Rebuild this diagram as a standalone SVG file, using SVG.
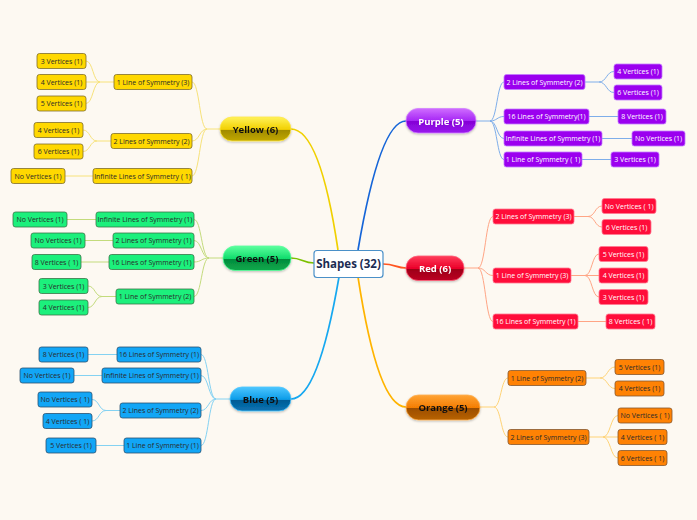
<svg xmlns="http://www.w3.org/2000/svg" width="697" height="520" viewBox="0 0 697 520">
<style>
text{font-family:"Open Sans","Noto Sans","DejaVu Sans",sans-serif;}
.lt{font-size:7px;text-anchor:middle;}
.pt{font-size:9.5px;font-weight:bold;text-anchor:middle;}
.ly rect{fill:#ffd800;stroke:#7d6c2c;stroke-width:0.8;}
.lg rect{fill:#1cf07c;stroke:#3b7448;stroke-width:0.8;}
.lb rect{fill:#12a6f6;stroke:#2c506e;stroke-width:0.8;}
.lo rect{fill:#ff8204;stroke:#84572e;stroke-width:0.8;}
.lp rect{fill:#9b00ef;stroke:#c27cff;stroke-width:0.8;}
.lr rect{fill:#ff0d3a;stroke:#ff7a90;stroke-width:0.8;}
.ly text,.lg text,.lb text,.lo text{fill:#2a2a2a;}
.lp text,.lr text{fill:#ffffff;}
.c{fill:none;stroke-width:1;}
.cy{stroke:#f7e27a;} .cg{stroke:#c3db7c;} .cb{stroke:#84d2f2;} .cp{stroke:#7eaeea;} .cr{stroke:#ffa585;} .co{stroke:#ffd376;}
.m{fill:none;stroke-width:1.7;}
</style>
<defs>
<linearGradient id="gy" x1="0" y1="0" x2="0" y2="1"><stop offset="0" stop-color="#fff25a"/><stop offset="0.52" stop-color="#f2d000"/><stop offset="0.53" stop-color="#9e8900"/><stop offset="1" stop-color="#c2a800"/></linearGradient>
<linearGradient id="gg" x1="0" y1="0" x2="0" y2="1"><stop offset="0" stop-color="#5cff9e"/><stop offset="0.52" stop-color="#10dc6c"/><stop offset="0.53" stop-color="#008a3c"/><stop offset="1" stop-color="#10aa4c"/></linearGradient>
<linearGradient id="gb" x1="0" y1="0" x2="0" y2="1"><stop offset="0" stop-color="#4cc6ff"/><stop offset="0.52" stop-color="#0c9ce8"/><stop offset="0.53" stop-color="#005a94"/><stop offset="1" stop-color="#0a74b4"/></linearGradient>
<linearGradient id="gp" x1="0" y1="0" x2="0" y2="1"><stop offset="0" stop-color="#cf6cff"/><stop offset="0.52" stop-color="#a424f4"/><stop offset="0.53" stop-color="#8400d6"/><stop offset="1" stop-color="#9a18ee"/></linearGradient>
<linearGradient id="gr" x1="0" y1="0" x2="0" y2="1"><stop offset="0" stop-color="#ff3c5a"/><stop offset="0.52" stop-color="#ea0028"/><stop offset="0.53" stop-color="#9c0018"/><stop offset="1" stop-color="#bc0022"/></linearGradient>
<linearGradient id="go" x1="0" y1="0" x2="0" y2="1"><stop offset="0" stop-color="#ffa436"/><stop offset="0.52" stop-color="#f47c00"/><stop offset="0.53" stop-color="#9c4e00"/><stop offset="1" stop-color="#b86200"/></linearGradient>
<filter id="glow" x="-20%" y="-40%" width="140%" height="180%"><feDropShadow dx="0" dy="1" stdDeviation="1.2" flood-color="#000" flood-opacity="0.25"/></filter>
</defs>
<rect x="0" y="0" width="697" height="520" fill="#fdf9f2"/>

<g id="connectors">
<path class="m" stroke="#f0d000" d="M338 250 Q320 129 291 129"/>
<path class="m" stroke="#1565d8" d="M358 250 Q380 121 406 121"/>
<path class="m" stroke="#16a8f0" d="M339 277 Q318 399 291 399"/>
<path class="m" stroke="#ffb400" d="M358 277 Q378 407 406 407"/>
<path class="m" stroke="#7cc000" d="M314 263 C303 263 302 258 291 258"/>
<path class="m" stroke="#ff5520" d="M383 264 C395 264 396 268 406 268"/>

<path class="c cy" d="M220 129 H207 C199.5 129 199.5 82 192 82 M207 129 C199.5 129 199.5 141 192 141 M207 129 C199.5 129 199.5 176 192 176"/>
<path class="c cy" d="M114 82 H100 C93 82 93 61 86 61 M100 82 H86 M100 82 C93 82 93 103.5 86 103.5"/>
<path class="c cy" d="M111 141 H97 C90 141 90 130 83 130 M97 141 C90 141 90 151.5 83 151.5"/>
<path class="c cy" d="M93 176 H65"/>

<path class="c cg" d="M223 258 H209 C201.5 258 201.5 219.5 194 219.5 M209 258 C201.5 258 201.5 240.5 194 240.5 M209 258 C201.5 258 201.5 262 194 262 M209 258 C201.5 258 201.5 296.5 194 296.5"/>
<path class="c cg" d="M96 219.5 H67 M113 240.5 H85 M109 262 H81"/>
<path class="c cg" d="M116 296.5 H102 C95 296.5 95 286 88 286 M102 296.5 C95 296.5 95 307.5 88 307.5"/>

<path class="c cb" d="M230 399 H216 C208.5 399 208.5 354.5 201 354.5 M216 399 C208.5 399 208.5 375.5 201 375.5 M216 399 C208.5 399 208.5 410.5 201 410.5 M216 399 C208.5 399 208.5 445.5 201 445.5"/>
<path class="c cb" d="M117 354.5 H88 M102 375.5 H74 M124 445.5 H96"/>
<path class="c cb" d="M120 410.5 H106 C99 410.5 99 399.5 92 399.5 M106 410.5 C99 410.5 99 421 92 421"/>

<path class="c cp" d="M476 121 H490 C497 121 497 82 504 82 M490 121 C497 121 497 116.5 504 116.5 M490 121 C497 121 497 138.5 504 138.5 M490 121 C497 121 497 159.5 504 159.5"/>
<path class="c cp" d="M585 82 H599 C606.5 82 606.5 71.5 614 71.5 M599 82 C606.5 82 606.5 92.5 614 92.5"/>
<path class="c cp" d="M589 116.5 H618 M602 138.5 H632 M582 159.5 H611"/>

<path class="c cr" d="M464 268 H478 C485.5 268 485.5 216.5 493 216.5 M478 268 C485.5 268 485.5 275.5 493 275.5 M478 268 C485.5 268 485.5 321.5 493 321.5"/>
<path class="c cr" d="M574 216.5 H588 C595 216.5 595 206 602 206 M588 216.5 C595 216.5 595 227 602 227"/>
<path class="c cr" d="M571 275.5 H585 C592 275.5 592 254 599 254 M585 275.5 H599 M585 275.5 C592 275.5 592 297 599 297"/>
<path class="c cr" d="M578 321.5 H606"/>

<path class="c co" d="M480 407 H494 C501 407 501 378 508 378 M494 407 C501 407 501 437 508 437"/>
<path class="c co" d="M586 378 H600 C607.5 378 607.5 367 615 367 M600 378 C607.5 378 607.5 388.5 615 388.5"/>
<path class="c co" d="M589 437 H603 C610.5 437 610.5 415.5 618 415.5 M603 437 H618 M603 437 C610.5 437 610.5 458 618 458"/>
</g>

<g id="center">
<rect x="314" y="250.5" width="69" height="27" rx="3" fill="#ffffff" stroke="#4a90c8" stroke-width="1.2"/>
<text x="348.5" y="268" font-size="11.5" font-weight="bold" fill="#1c2c52" text-anchor="middle">Shapes (32)</text>
</g>

<g id="yellow" filter="url(#glow)"><rect x="220" y="117" width="71" height="24" rx="12" fill="url(#gy)" stroke="#ffe84a" stroke-width="0.8"/><text class="pt" x="255.5" y="132.5" fill="#111">Yellow (6)</text></g>
<g id="green" filter="url(#glow)"><rect x="223" y="246" width="68" height="24.5" rx="12" fill="url(#gg)" stroke="#5cff9e" stroke-width="0.8"/><text class="pt" x="257" y="261.5" fill="#111">Green (5)</text></g>
<g id="blue" filter="url(#glow)"><rect x="230" y="387" width="61" height="24" rx="12" fill="url(#gb)" stroke="#50c8ff" stroke-width="0.8"/><text class="pt" x="260.5" y="402.5" fill="#111">Blue (5)</text></g>
<g id="purple" filter="url(#glow)"><rect x="406" y="108.5" width="70" height="24.5" rx="12" fill="url(#gp)" stroke="#d080ff" stroke-width="0.8"/><text class="pt" x="441" y="124.5" fill="#fff">Purple (5)</text></g>
<g id="red" filter="url(#glow)"><rect x="406" y="256" width="58" height="24.5" rx="12" fill="url(#gr)" stroke="#ff6078" stroke-width="0.8"/><text class="pt" x="435" y="271.5" fill="#fff">Red (6)</text></g>
<g id="orange" filter="url(#glow)"><rect x="406" y="395" width="74" height="25" rx="12.5" fill="url(#go)" stroke="#ffb050" stroke-width="0.8"/><text class="pt" x="443" y="410.5" fill="#111">Orange (5)</text></g>

<g class="ly">
<g id="y1"><rect x="114" y="74.5" width="78" height="15" rx="2.5"/><text class="lt" x="153" y="84.5">1 Line of Symmetry (3)</text></g>
<g id="y2"><rect x="111" y="133.5" width="81" height="15" rx="2.5"/><text class="lt" x="151.5" y="143.5">2 Lines of Symmetry (2)</text></g>
<g id="y3"><rect x="93" y="168.5" width="99" height="15" rx="2.5"/><text class="lt" x="142.5" y="178.5">Infinite Lines of Symmetry ( 1)</text></g>
<g id="y1a"><rect x="37" y="53.5" width="49" height="15" rx="2.5"/><text class="lt" x="61.5" y="63.5">3 Vertices (1)</text></g>
<g id="y1b"><rect x="37" y="74.5" width="49" height="15" rx="2.5"/><text class="lt" x="61.5" y="84.5">4 Vertices (1)</text></g>
<g id="y1c"><rect x="37" y="96" width="49" height="15" rx="2.5"/><text class="lt" x="61.5" y="106">5 Vertices (1)</text></g>
<g id="y2a"><rect x="34" y="122.5" width="49" height="15" rx="2.5"/><text class="lt" x="58.5" y="132.5">4 Vertices (1)</text></g>
<g id="y2b"><rect x="34" y="144" width="49" height="15" rx="2.5"/><text class="lt" x="58.5" y="154">6 Vertices (1)</text></g>
<g id="y3a"><rect x="11" y="168.5" width="54" height="15" rx="2.5"/><text class="lt" x="38" y="178.5">No Vertices (1)</text></g>
</g>

<g class="lg">
<g id="g1"><rect x="96" y="212" width="98" height="15" rx="2.5"/><text class="lt" x="145" y="222">Infinite Lines of Symmetry (1)</text></g>
<g id="g2"><rect x="113" y="233" width="81" height="15" rx="2.5"/><text class="lt" x="153.5" y="243">2 Lines of Symmetry (1)</text></g>
<g id="g3"><rect x="109" y="254.5" width="85" height="15" rx="2.5"/><text class="lt" x="151.5" y="264.5">16 Lines of Symmetry (1)</text></g>
<g id="g4"><rect x="116" y="289" width="78" height="15" rx="2.5"/><text class="lt" x="155" y="299">1 Line of Symmetry (2)</text></g>
<g id="g1a"><rect x="13" y="212" width="54" height="15" rx="2.5"/><text class="lt" x="40" y="222">No Vertices (1)</text></g>
<g id="g2a"><rect x="31" y="233" width="54" height="15" rx="2.5"/><text class="lt" x="58" y="243">No Vertices (1)</text></g>
<g id="g3a"><rect x="32" y="254.5" width="49" height="15" rx="2.5"/><text class="lt" x="56.5" y="264.5">8 Vertices ( 1)</text></g>
<g id="g4a"><rect x="39" y="278.5" width="49" height="15" rx="2.5"/><text class="lt" x="63.5" y="288.5">3 Vertices (1)</text></g>
<g id="g4b"><rect x="39" y="300" width="49" height="15" rx="2.5"/><text class="lt" x="63.5" y="310">4 Vertices (1)</text></g>
</g>

<g class="lb">
<g id="b1"><rect x="117" y="347" width="84" height="15" rx="2.5"/><text class="lt" x="159" y="357">16 Lines of Symmetry (1)</text></g>
<g id="b2"><rect x="102" y="368" width="99" height="15" rx="2.5"/><text class="lt" x="151.5" y="378">Infinite Lines of Symmetry (1)</text></g>
<g id="b3"><rect x="120" y="403" width="81" height="15" rx="2.5"/><text class="lt" x="160.5" y="413">2 Lines of Symmetry (2)</text></g>
<g id="b4"><rect x="124" y="438" width="77" height="15" rx="2.5"/><text class="lt" x="162.5" y="448">1 Line of Symmetry (1)</text></g>
<g id="b1a"><rect x="39" y="347" width="49" height="15" rx="2.5"/><text class="lt" x="63.5" y="357">8 Vertices (1)</text></g>
<g id="b2a"><rect x="20" y="368" width="54" height="15" rx="2.5"/><text class="lt" x="47" y="378">No Vertices (1)</text></g>
<g id="b3a"><rect x="38" y="392" width="54" height="15" rx="2.5"/><text class="lt" x="65" y="402">No Vertices ( 1)</text></g>
<g id="b3b"><rect x="43" y="413.5" width="49" height="15" rx="2.5"/><text class="lt" x="67.5" y="423.5">4 Vertices ( 1)</text></g>
<g id="b4a"><rect x="46" y="438" width="50" height="15" rx="2.5"/><text class="lt" x="71" y="448">5 Vertices (1)</text></g>
</g>

<g class="lp">
<g id="p1"><rect x="504" y="74.5" width="81" height="15" rx="2.5"/><text class="lt" x="544.5" y="84.5">2 Lines of Symmetry (2)</text></g>
<g id="p2"><rect x="504" y="109" width="85" height="15" rx="2.5"/><text class="lt" x="546.5" y="119">16 Lines of Symmetry(1)</text></g>
<g id="p3"><rect x="504" y="131" width="98" height="15" rx="2.5"/><text class="lt" x="553" y="141">Infinite Lines of Symmetry (1)</text></g>
<g id="p4"><rect x="504" y="152" width="78" height="15" rx="2.5"/><text class="lt" x="543" y="162">1 Line of Symmetry ( 1)</text></g>
<g id="p1a"><rect x="614" y="64" width="48" height="15" rx="2.5"/><text class="lt" x="638" y="74">4 Vertices (1)</text></g>
<g id="p1b"><rect x="614" y="85" width="48" height="15" rx="2.5"/><text class="lt" x="638" y="95">6 Vertices (1)</text></g>
<g id="p2a"><rect x="618" y="109" width="48" height="15" rx="2.5"/><text class="lt" x="642" y="119">8 Vertices (1)</text></g>
<g id="p3a"><rect x="632" y="131" width="53" height="15" rx="2.5"/><text class="lt" x="658.5" y="141">No Vertices (1)</text></g>
<g id="p4a"><rect x="611" y="152" width="48" height="15" rx="2.5"/><text class="lt" x="635" y="162">3 Vertices (1)</text></g>
</g>

<g class="lr">
<g id="r1"><rect x="493" y="209" width="81" height="15" rx="2.5"/><text class="lt" x="533.5" y="219">2 Lines of Symmetry (3)</text></g>
<g id="r2"><rect x="493" y="268" width="78" height="15" rx="2.5"/><text class="lt" x="532" y="278">1 Line of Symmetry (3)</text></g>
<g id="r3"><rect x="493" y="314" width="85" height="15" rx="2.5"/><text class="lt" x="535.5" y="324">16 Lines of Symmetry (1)</text></g>
<g id="r1a"><rect x="602" y="198.5" width="54" height="15" rx="2.5"/><text class="lt" x="629" y="208.5">No Vertices ( 1)</text></g>
<g id="r1b"><rect x="602" y="219.5" width="49" height="15" rx="2.5"/><text class="lt" x="626.5" y="229.5">6 Vertices (1)</text></g>
<g id="r2a"><rect x="599" y="246.5" width="49" height="15" rx="2.5"/><text class="lt" x="623.5" y="256.5">5 Vertices (1)</text></g>
<g id="r2b"><rect x="599" y="268" width="49" height="15" rx="2.5"/><text class="lt" x="623.5" y="278">4 Vertices (1)</text></g>
<g id="r2c"><rect x="599" y="289.5" width="49" height="15" rx="2.5"/><text class="lt" x="623.5" y="299.5">3 Vertices (1)</text></g>
<g id="r3a"><rect x="606" y="314" width="49" height="15" rx="2.5"/><text class="lt" x="630.5" y="324">8 Vertices ( 1)</text></g>
</g>

<g class="lo">
<g id="o1"><rect x="508" y="370.5" width="78" height="15" rx="2.5"/><text class="lt" x="547" y="380.5">1 Line of Symmetry (2)</text></g>
<g id="o2"><rect x="508" y="429.5" width="81" height="15" rx="2.5"/><text class="lt" x="548.5" y="439.5">2 Lines of Symmetry (3)</text></g>
<g id="o1a"><rect x="615" y="359.5" width="49" height="15" rx="2.5"/><text class="lt" x="639.5" y="369.5">5 Vertices (1)</text></g>
<g id="o1b"><rect x="615" y="381" width="49" height="15" rx="2.5"/><text class="lt" x="639.5" y="391">4 Vertices (1)</text></g>
<g id="o2a"><rect x="618" y="408" width="54" height="15" rx="2.5"/><text class="lt" x="645" y="418">No Vertices ( 1)</text></g>
<g id="o2b"><rect x="618" y="429.5" width="49" height="15" rx="2.5"/><text class="lt" x="642.5" y="439.5">4 Vertices ( 1)</text></g>
<g id="o2c"><rect x="618" y="450.5" width="49" height="15" rx="2.5"/><text class="lt" x="642.5" y="460.5">6 Vertices ( 1)</text></g>
</g>
</svg>
